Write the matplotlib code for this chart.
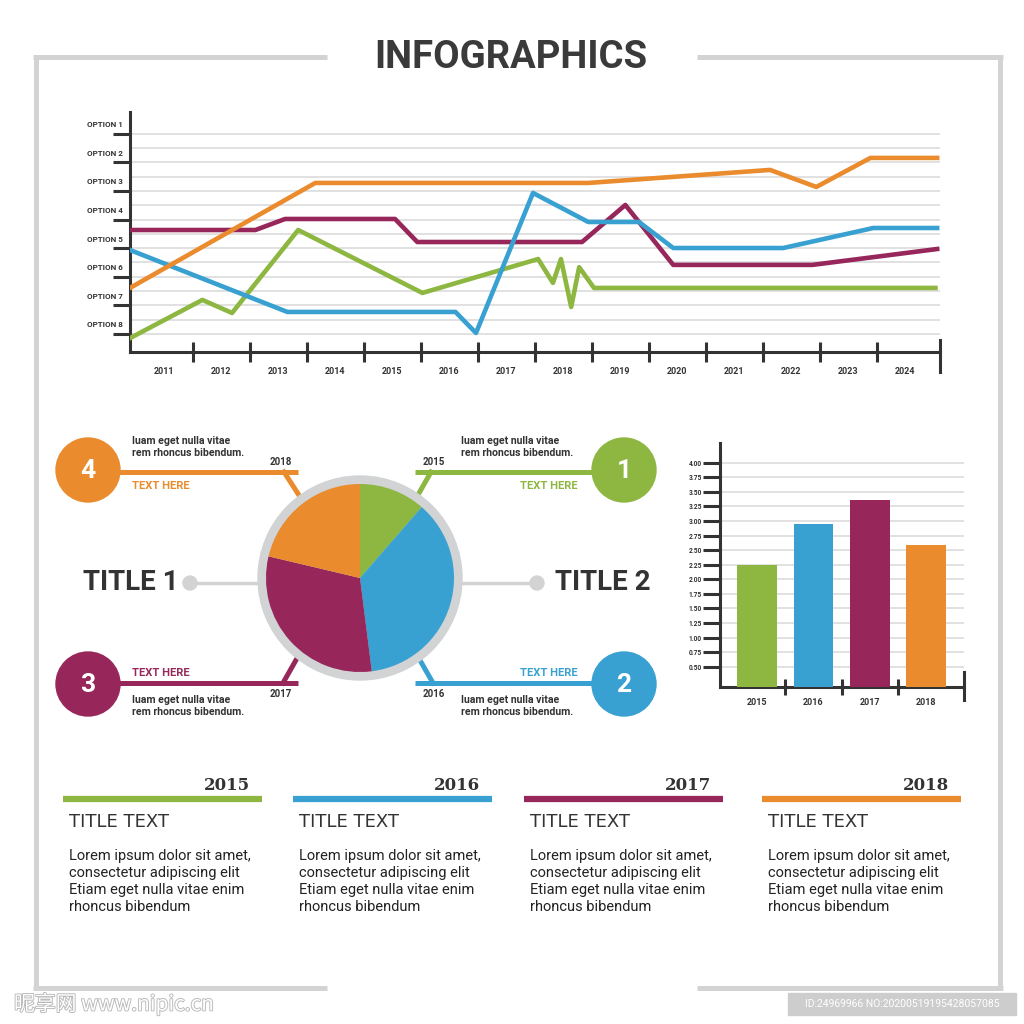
import numpy as np
import matplotlib
matplotlib.use("Agg")
import matplotlib.pyplot as plt
import matplotlib.patheffects as pe
from matplotlib import transforms
from matplotlib.patches import Circle, Rectangle

plt.rcParams['font.family'] = ['Roboto', 'DejaVu Sans']

GREEN  = '#8db741'
BLUE   = '#38a1d1'
PURPLE = '#97265a'
ORANGE = '#ea8b2d'
DARK   = '#333333'
GRID   = '#d9d9d9'
FRAME  = '#d3d3d3'

# ---- data ----
line_years    = [2011, 2012, 2013, 2014, 2015, 2016, 2017, 2018, 2019, 2020, 2021, 2022, 2023, 2024]
option_labels = ['OPTION 1', 'OPTION 2', 'OPTION 3', 'OPTION 4', 'OPTION 5', 'OPTION 6', 'OPTION 7', 'OPTION 8']
option_levels = [15, 13, 11, 9, 7, 5, 3, 1]

orange_x = [2010.40, 2013.65, 2018.44, 2021.63, 2022.44, 2023.39, 2024.56]
orange_y = [4.22, 11.56, 11.56, 12.47, 11.28, 13.31, 13.31]
purple_x = [2010.40, 2012.60, 2013.12, 2015.05, 2015.44, 2018.33, 2019.09, 2019.93, 2022.37, 2024.56]
purple_y = [8.27, 8.27, 9.04, 9.04, 7.43, 7.43, 10.02, 5.83, 5.83, 6.94]
blue_x   = [2010.40, 2013.16, 2016.11, 2016.47, 2017.47, 2018.44, 2019.33, 2019.93, 2021.86, 2023.44, 2024.56]
blue_y   = [6.87, 2.54, 2.54, 1.07, 10.86, 8.83, 8.83, 7.01, 7.01, 8.41, 8.41]
green_x  = [2010.40, 2011.67, 2012.19, 2013.35, 2015.53, 2017.56, 2017.82, 2017.96, 2018.14, 2018.28, 2018.54, 2024.53]
green_y  = [0.71, 3.38, 2.47, 8.27, 3.87, 6.24, 4.57, 6.24, 2.89, 5.67, 4.22, 4.22]

pie_years = ['2015', '2016', '2017', '2018']
pie_share = [11.4, 36.6, 30.7, 21.3]

bar_years  = ['2015', '2016', '2017', '2018']
bar_values = [2.24, 2.95, 3.36, 2.59]
bar_ticklabels = ['0.50', '0.75', '1.00', '1.25', '1.50', '1.75', '2.00', '2.25',
                  '2.50', '2.75', '3.00', '3.25', '3.50', '3.75', '4.00']

col_years  = ['2015', '2016', '2017', '2018']
col_title  = 'TITLE TEXT'
col_lines  = ['Lorem ipsum dolor sit amet,', 'consectetur adipiscing elit',
              'Etiam eget nulla vitae enim', 'rhoncus bibendum']
callout_text = 'Iuam eget nulla vitae\nrem rhoncus bibendum.'

year_colors = [GREEN, BLUE, PURPLE, ORANGE]

fig = plt.figure(figsize=[10.24, 10.24], dpi=100)

def box(x0, y0, x1, y1):
    return [x0/1024., 1 - y1/1024., (x1 - x0)/1024., (y1 - y0)/1024.]

# background / pixel overlay
bg = fig.add_axes([0, 0, 1, 1])
bg.set_xlim(0, 1024)
bg.set_ylim(1024, 0)
bg.axis('off')

# frame
fw = 3.6
bg.plot([33, 327], [57, 57], color=FRAME, lw=fw, solid_capstyle='butt')
bg.plot([697, 1003], [57, 57], color=FRAME, lw=fw, solid_capstyle='butt')
bg.plot([36, 36], [55, 990], color=FRAME, lw=fw, solid_capstyle='butt')
bg.plot([1000, 1000], [55, 990], color=FRAME, lw=fw, solid_capstyle='butt')
bg.plot([33, 327], [988, 988], color=FRAME, lw=fw, solid_capstyle='butt')
bg.plot([697, 1003], [988, 988], color=FRAME, lw=fw, solid_capstyle='butt')

bg.text(511, 57, 'INFOGRAPHICS', ha='center', va='center', fontsize=27.5,
        fontweight='bold', color='#3a3a3a')

# ---- line chart ----
ax1 = fig.add_axes(box(130, 112, 940, 352))
for v in range(1, 16):
    ax1.axhline(v, color=GRID, lw=1.1, zorder=1)
ax1.plot(purple_x, purple_y, color=PURPLE, lw=3.3, zorder=3)
ax1.plot(green_x, green_y, color=GREEN, lw=3.3, zorder=3)
ax1.plot(blue_x, blue_y, color=BLUE, lw=3.3, zorder=3)
ax1.plot(orange_x, orange_y, color=ORANGE, lw=3.3, zorder=3)
ax1.set_xlim(2010.40, 2024.61)
ax1.set_ylim(-0.26, 16.52)
ax1.set_facecolor('none')
for s in ['top', 'right']:
    ax1.spines[s].set_visible(False)
for s in ['left', 'bottom']:
    ax1.spines[s].set_color(DARK)
    ax1.spines[s].set_linewidth(2.2)
ax1.set_xticks([y + 0.5 for y in line_years[:-1]])
ax1.set_xticklabels([])
ax1.set_xticks(line_years, minor=True)
ax1.set_xticklabels([str(y) for y in line_years], minor=True, fontsize=6.5,
                    fontweight='bold', color=DARK)
ax1.tick_params(axis='x', which='major', direction='inout', length=14, width=2.2, color=DARK)
ax1.tick_params(axis='x', which='minor', length=0, pad=11)
ax1.set_yticks(option_levels)
ax1.set_yticklabels([])
ax1.tick_params(axis='y', direction='out', length=12, width=2.2, color=DARK)
lab_tr = transforms.offset_copy(ax1.get_yaxis_transform(), fig=fig, x=-7, y=9, units='dots')
for lab, lev in zip(option_labels, option_levels):
    ax1.text(0, lev, lab, transform=lab_tr, ha='right', va='center', fontsize=5.8,
             fontweight='bold', color=DARK)
ax1.plot([1, 1], [-0.083, 0.05], transform=ax1.transAxes, clip_on=False, color=DARK, lw=2.2)

# ---- pie connectors and callouts (pixel overlay) ----
lw_c = 3.6
fs_c = 7.6
# title connectors
bg.plot([190, 265], [583, 583], color=FRAME, lw=2.5)
bg.add_patch(Circle((190, 583), 7, color=FRAME))
bg.text(179, 583, 'TITLE 1', ha='right', va='center', fontsize=20, fontweight='bold', color=DARK)
bg.plot([456, 537], [583, 583], color=FRAME, lw=2.5)
bg.add_patch(Circle((537, 583), 7, color=FRAME))
bg.text(555, 583, 'TITLE 2', ha='left', va='center', fontsize=20, fontweight='bold', color=DARK)

# 4 / orange (2018) top-left
bg.plot([115, 298], [472, 472], color=ORANGE, lw=lw_c, solid_capstyle='butt')
bg.plot([284, 304], [472, 503], color=ORANGE, lw=lw_c)
bg.add_patch(Circle((88, 470), 32, color=ORANGE))
bg.text(88, 471, '4', ha='center', va='center', fontsize=19, fontweight='bold', color='white')
bg.text(132, 447, callout_text, ha='left', va='center', fontsize=fs_c, fontweight='bold',
        color=DARK, linespacing=1.2)
bg.text(132, 486, 'TEXT HERE', ha='left', va='center', fontsize=8, fontweight='bold', color=ORANGE)
bg.text(281, 462, pie_years[3], ha='center', va='center', fontsize=7, fontweight='bold', color=DARK)

# 1 / green (2015) top-right
bg.plot([415, 597], [472, 472], color=GREEN, lw=lw_c, solid_capstyle='butt')
bg.plot([431, 414], [472, 502], color=GREEN, lw=lw_c)
bg.add_patch(Circle((624, 470), 32, color=GREEN))
bg.text(624, 471, '1', ha='center', va='center', fontsize=19, fontweight='bold', color='white')
bg.text(461, 447, callout_text, ha='left', va='center', fontsize=fs_c, fontweight='bold',
        color=DARK, linespacing=1.2)
bg.text(578, 486, 'TEXT HERE', ha='right', va='center', fontsize=8, fontweight='bold', color=GREEN)
bg.text(434, 462, pie_years[0], ha='center', va='center', fontsize=7, fontweight='bold', color=DARK)

# 3 / purple (2017) bottom-left
bg.plot([115, 298], [683, 683], color=PURPLE, lw=lw_c, solid_capstyle='butt')
bg.plot([283, 300], [683, 653], color=PURPLE, lw=lw_c)
bg.add_patch(Circle((88, 684), 32, color=PURPLE))
bg.text(88, 685, '3', ha='center', va='center', fontsize=19, fontweight='bold', color='white')
bg.text(132, 706, callout_text, ha='left', va='center', fontsize=fs_c, fontweight='bold',
        color=DARK, linespacing=1.2)
bg.text(132, 673, 'TEXT HERE', ha='left', va='center', fontsize=8, fontweight='bold', color=PURPLE)
bg.text(281, 694, pie_years[2], ha='center', va='center', fontsize=7, fontweight='bold', color=DARK)

# 2 / blue (2016) bottom-right
bg.plot([415, 597], [683, 683], color=BLUE, lw=lw_c, solid_capstyle='butt')
bg.plot([433, 417], [683, 655], color=BLUE, lw=lw_c)
bg.add_patch(Circle((624, 684), 32, color=BLUE))
bg.text(624, 685, '2', ha='center', va='center', fontsize=19, fontweight='bold', color='white')
bg.text(461, 706, callout_text, ha='left', va='center', fontsize=fs_c, fontweight='bold',
        color=DARK, linespacing=1.2)
bg.text(578, 673, 'TEXT HERE', ha='right', va='center', fontsize=8, fontweight='bold', color=BLUE)
bg.text(434, 694, pie_years[1], ha='center', va='center', fontsize=7, fontweight='bold', color=DARK)

# ---- pie ----
pax = fig.add_axes(box(250, 468, 470, 688))
pax.add_patch(Circle((0, 0), 1.02, color='#d1d3d4', zorder=0))
pax.pie(pie_share, colors=year_colors, startangle=90, counterclock=False, radius=0.94,
        center=(0, 0), wedgeprops=dict(linewidth=0))
pax.set_xlim(-1.1, 1.1)
pax.set_ylim(-1.1, 1.1)
pax.set_aspect('equal')
pax.axis('off')

# ---- bar chart ----
bax = fig.add_axes(box(720, 443, 964, 687))
tick_vals = [float(t) for t in bar_ticklabels]
for v in tick_vals:
    bax.axhline(v, color=GRID, lw=1.1, zorder=1)
bax.bar(range(len(bar_values)), bar_values, width=0.7, color=year_colors, zorder=3)
bax.set_xlim(-0.655, 3.67)
bax.set_ylim(0.15, 4.34)
bax.set_facecolor('none')
for s in ['top', 'right']:
    bax.spines[s].set_visible(False)
for s in ['left', 'bottom']:
    bax.spines[s].set_color(DARK)
    bax.spines[s].set_linewidth(2.2)
bax.set_yticks(tick_vals)
bax.set_yticklabels(bar_ticklabels, fontsize=4.8, fontweight='bold', color=DARK)
bax.tick_params(axis='y', direction='out', length=12, width=2.2, color=DARK, pad=1)
bax.set_xticks([0.5, 1.5, 2.5])
bax.set_xticklabels([])
bax.set_xticks(range(len(bar_years)), minor=True)
bax.set_xticklabels(bar_years, minor=True, fontsize=6.5, fontweight='bold', color=DARK)
bax.tick_params(axis='x', which='major', direction='inout', length=11, width=2.2, color=DARK)
bax.tick_params(axis='x', which='minor', length=0, pad=8)
bax.plot([1, 1], [-0.053, 0.061], transform=bax.transAxes, clip_on=False, color=DARK, lw=2.2)

# ---- bottom columns ----
col_x0 = [63, 293, 524, 762]
for x0, yr, c in zip(col_x0, col_years, year_colors):
    bg.plot([x0, x0 + 199], [799, 799], color=c, lw=4.5, solid_capstyle='butt')
    bg.text(x0 + 187, 786, yr, ha='right', va='center', fontsize=12, fontweight='bold',
            color=DARK, family='DejaVu Serif')
    bg.text(x0 + 6, 822, col_title, ha='left', va='center', fontsize=13, color=DARK,
            family='DejaVu Sans')
    for i, line in enumerate(col_lines):
        bg.text(x0 + 6, 856 + 17 * i, line, ha='left', va='center', fontsize=10.5,
                color='#222222')

# ---- watermark ----
bg.text(14, 1004, '昵享网 www.nipic.cn', ha='left', va='center', fontsize=15, color='white',
        family=['Noto Sans CJK SC', 'DejaVu Sans'], style='italic',
        path_effects=[pe.withStroke(linewidth=1.3, foreground='#b8b8b8')])
bg.add_patch(Rectangle((788, 993), 228, 22, color='#cdcdcd'))
bg.text(902, 1004, 'ID:24969966 NO:20200519195428057085', ha='center', va='center',
        fontsize=7.5, color='white')

fig.savefig('out.png', dpi=100)
